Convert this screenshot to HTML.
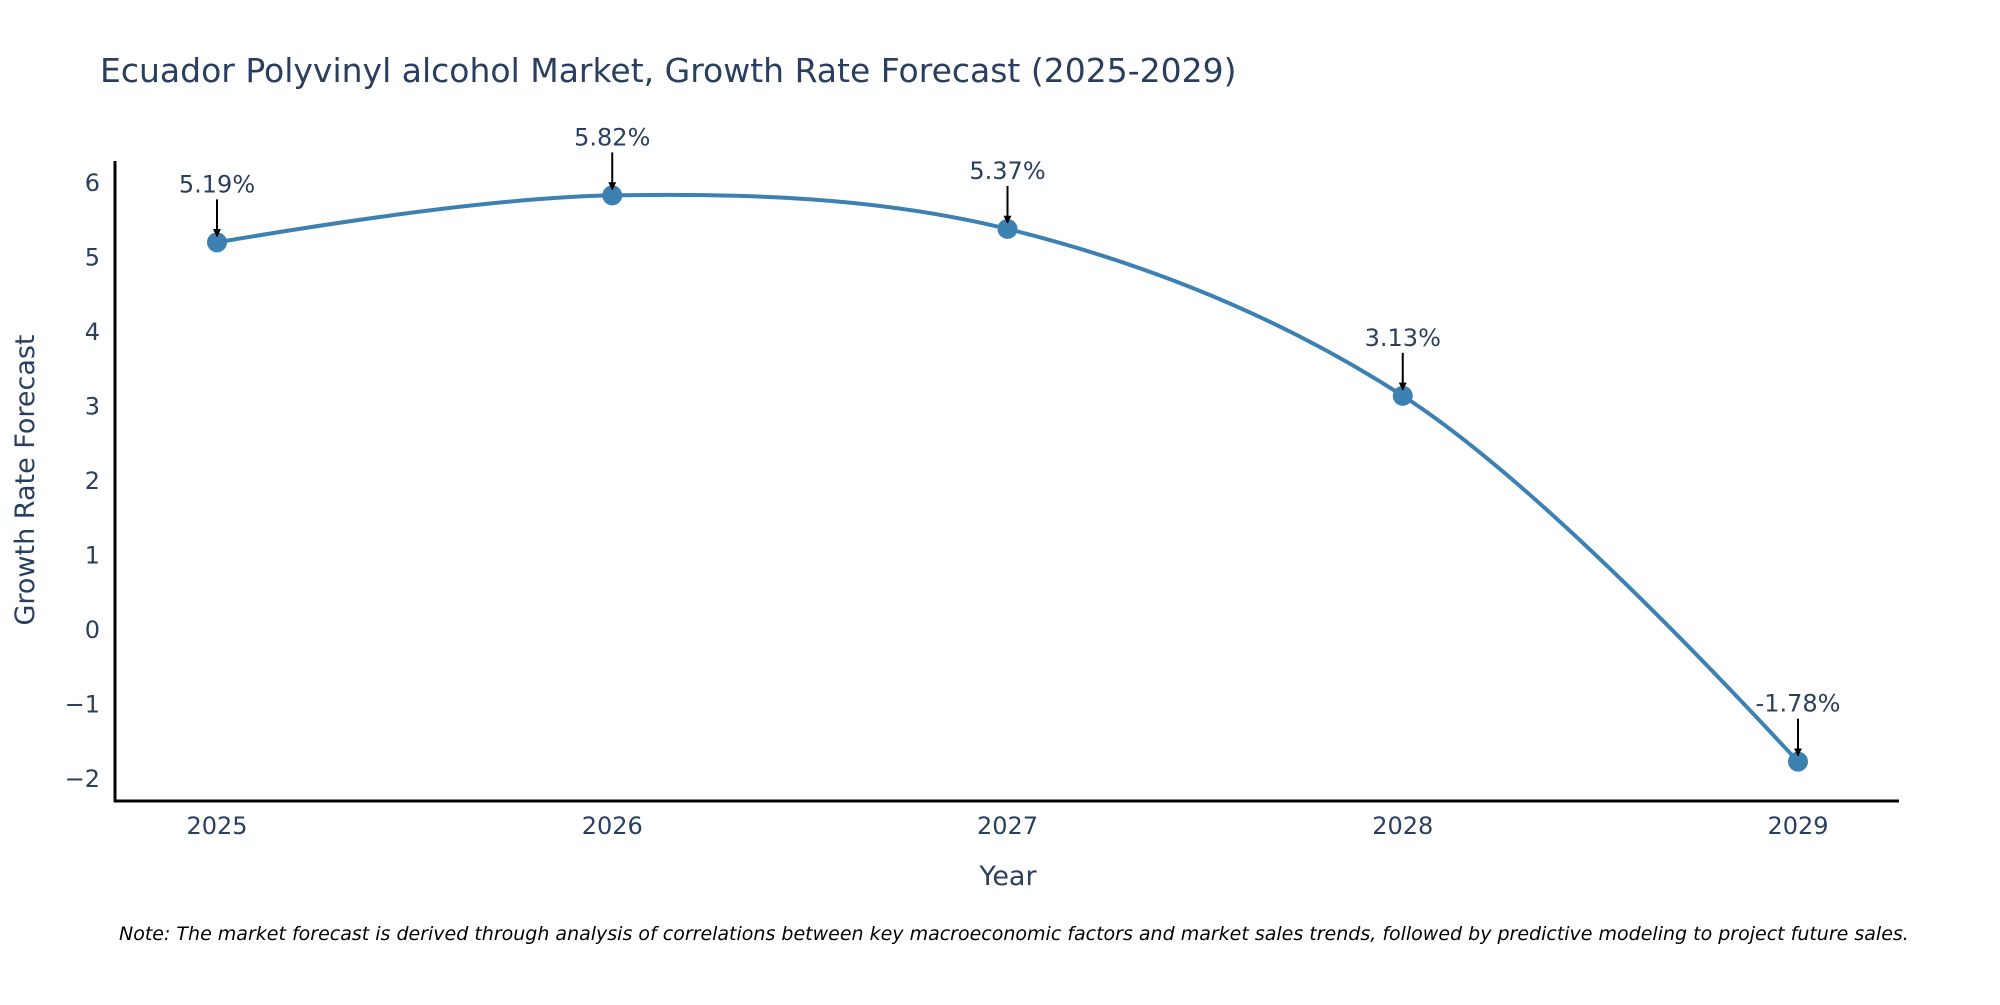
<!DOCTYPE html>
<html><head><meta charset="utf-8"><style>
body{margin:0;background:#fff;}
svg text{font-family:"DejaVu Sans","Liberation Sans",sans-serif;fill:#2a3f5f;}
</style></head><body>
<svg id="chart" width="2000" height="1000" viewBox="0 0 2000 1000" xmlns="http://www.w3.org/2000/svg">
<text x="100" y="82" font-size="33">Ecuador Polyvinyl alcohol Market, Growth Rate Forecast (2025-2029)</text>
<g id="yticks"></g>
<g id="xticks"></g>
<line x1="115" y1="161" x2="115" y2="802" stroke="#000" stroke-width="3"/>
<line x1="114" y1="801" x2="1899" y2="801" stroke="#000" stroke-width="3"/>
<path id="line" fill="none" stroke="#3d80b2" stroke-width="4"/>
<g id="points"></g>
<g id="annos"></g>
<text x="1008" y="885" font-size="27" text-anchor="middle">Year</text>
<text x="34" y="480" font-size="27" text-anchor="middle" transform="rotate(-90 34 480)">Growth Rate Forecast</text>
<text x="119" y="940" font-size="19" font-style="italic" style="fill:#000">Note: The market forecast is derived through analysis of correlations between key macroeconomic factors and market sales trends, followed by predictive modeling to project future sales.</text>
<defs><marker id="ah" viewBox="0 0 10 10" refX="9" refY="5" markerWidth="4" markerHeight="4" orient="auto"><path d="M0,0L10,5L0,10z" fill="#000"/></marker></defs>
</svg>
<script>
const years=[2025,2026,2027,2028,2029];
const values=[5.19,5.82,5.37,3.13,-1.78];
const labels=["5.19%","5.82%","5.37%","3.13%","-1.78%"];
const yTicks=[-2,-1,0,1,2,3,4,5,6];
const yTickLabels=["\u22122","\u22121","0","1","2","3","4","5","6"];
const NS="http://www.w3.org/2000/svg";
const X=v=>217+(v-2025)*395.25;
const Y=v=>182+(6-v)*74.5;
function mk(tag,attrs,parent,txt){const e=document.createElementNS(NS,tag);for(const k in attrs)e.setAttribute(k,attrs[k]);if(txt!==undefined)e.textContent=txt;parent.appendChild(e);return e;}
const yg=document.getElementById('yticks');
yTicks.forEach((t,i)=>{const e=mk('text',{x:100,y:Y(t)+9,'font-size':24,'text-anchor':'end'},yg,yTickLabels[i]);

});
const xg=document.getElementById('xticks');
years.forEach(y=>{const e=mk('text',{x:X(y),y:834,'font-size':24,'text-anchor':'middle'},xg,String(y));

});
const pts=years.map((y,i)=>[X(y),Y(values[i])]);
function tan(p0,p1,p2){const dx1=p1[0]-p0[0],dy1=p1[1]-p0[1],dx2=p2[0]-p1[0],dy2=p2[1]-p1[1];
const d1=Math.pow(dx1*dx1+dy1*dy1,0.25),d2=Math.pow(dx2*dx2+dy2*dy2,0.25);
const nx=(d2*d2*dx1+d1*d1*dx2),ny=(d2*d2*dy1+d1*d1*dy2);const a=3*d2*(d1+d2),b=3*d1*(d1+d2);
return [[p1[0]-nx/a,p1[1]-ny/a],[p1[0]+nx/b,p1[1]+ny/b]];}
const T=[];for(let i=1;i<pts.length-1;i++)T.push(tan(pts[i-1],pts[i],pts[i+1]));
const n=pts.length;let d=`M${pts[0]} Q${T[0][0]} ${pts[1]}`;
for(let i=2;i<n-1;i++)d+=` C${T[i-2][1]} ${T[i-1][0]} ${pts[i]}`;
d+=` Q${T[n-3][1]} ${pts[n-1]}`;
document.getElementById('line').setAttribute('d',d);
const pg=document.getElementById('points'),ag=document.getElementById('annos');
pts.forEach((p,i)=>{const c=mk('circle',{cx:p[0],cy:p[1],r:10,fill:'#3d80b2'},pg);


const l=mk('line',{x1:p[0],y1:p[1]-43,x2:p[0],y2:p[1]-6,stroke:'#000','stroke-width':2,'marker-end':'url(#ah)'},ag);


const t=mk('text',{x:p[0],y:p[1]-50,'font-size':24,'text-anchor':'middle'},ag,labels[i]);

});
</script>
</body></html>
